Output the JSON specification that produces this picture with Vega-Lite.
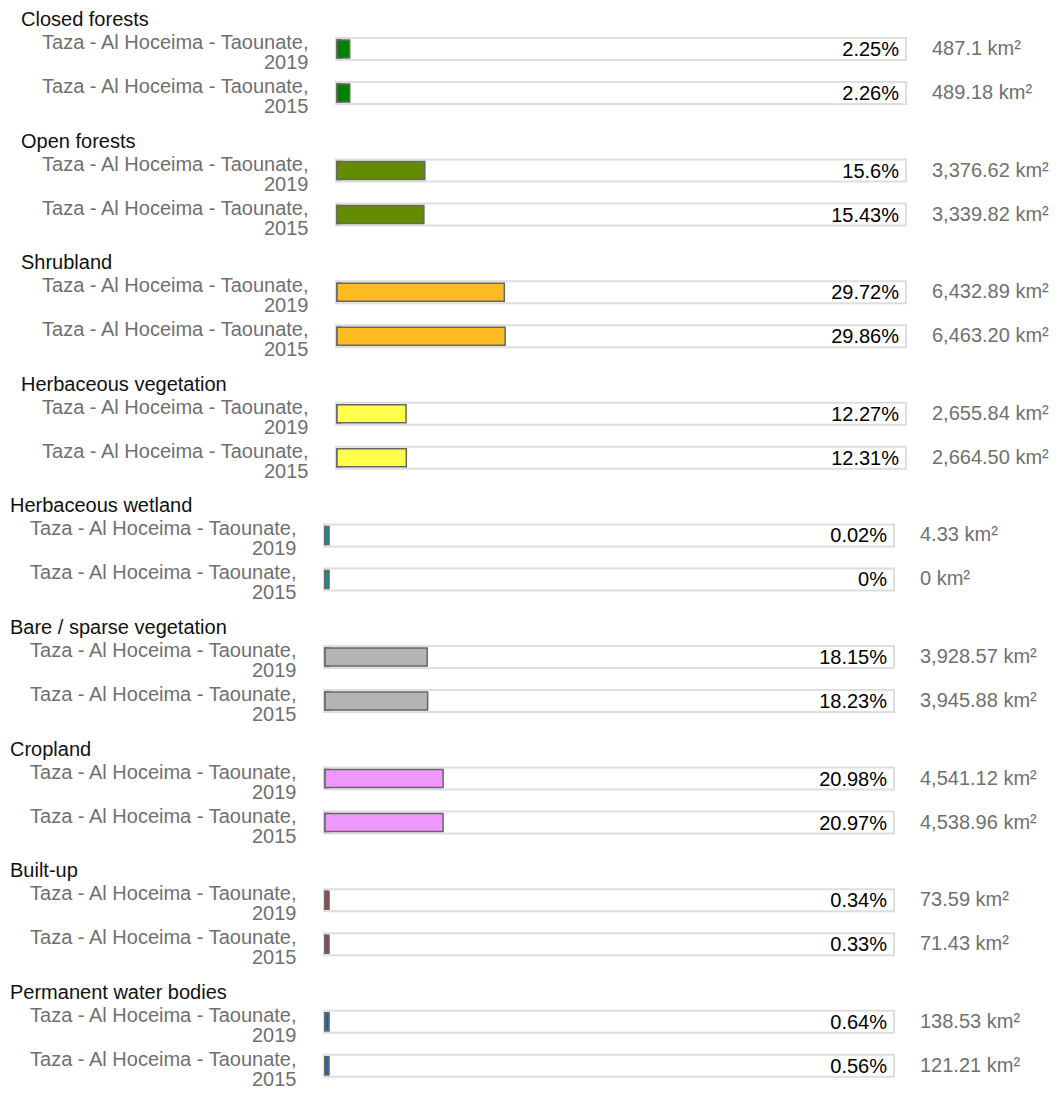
{
  "$schema": "https://vega.github.io/schema/vega-lite/v6.json",
  "background": "white",
  "padding": {"left": 10, "top": 10, "right": 0, "bottom": 0},
  "data": {"values": [
    {"cover": "Closed forests", "row": "Taza - Al Hoceima - Taounate, 2019", "share": 2.25, "shareLabel": "2.25%", "area": 487.1, "areaLabel": "487.1 km²"},
    {"cover": "Closed forests", "row": "Taza - Al Hoceima - Taounate, 2015", "share": 2.26, "shareLabel": "2.26%", "area": 489.18, "areaLabel": "489.18 km²"},
    {"cover": "Open forests", "row": "Taza - Al Hoceima - Taounate, 2019", "share": 15.6, "shareLabel": "15.6%", "area": 3376.62, "areaLabel": "3,376.62 km²"},
    {"cover": "Open forests", "row": "Taza - Al Hoceima - Taounate, 2015", "share": 15.43, "shareLabel": "15.43%", "area": 3339.82, "areaLabel": "3,339.82 km²"},
    {"cover": "Shrubland", "row": "Taza - Al Hoceima - Taounate, 2019", "share": 29.72, "shareLabel": "29.72%", "area": 6432.89, "areaLabel": "6,432.89 km²"},
    {"cover": "Shrubland", "row": "Taza - Al Hoceima - Taounate, 2015", "share": 29.86, "shareLabel": "29.86%", "area": 6463.2, "areaLabel": "6,463.20 km²"},
    {"cover": "Herbaceous vegetation", "row": "Taza - Al Hoceima - Taounate, 2019", "share": 12.27, "shareLabel": "12.27%", "area": 2655.84, "areaLabel": "2,655.84 km²"},
    {"cover": "Herbaceous vegetation", "row": "Taza - Al Hoceima - Taounate, 2015", "share": 12.31, "shareLabel": "12.31%", "area": 2664.5, "areaLabel": "2,664.50 km²"},
    {"cover": "Herbaceous wetland", "row": "Taza - Al Hoceima - Taounate, 2019", "share": 0.02, "shareLabel": "0.02%", "area": 4.33, "areaLabel": "4.33 km²"},
    {"cover": "Herbaceous wetland", "row": "Taza - Al Hoceima - Taounate, 2015", "share": 0, "shareLabel": "0%", "area": 0, "areaLabel": "0 km²"},
    {"cover": "Bare / sparse vegetation", "row": "Taza - Al Hoceima - Taounate, 2019", "share": 18.15, "shareLabel": "18.15%", "area": 3928.57, "areaLabel": "3,928.57 km²"},
    {"cover": "Bare / sparse vegetation", "row": "Taza - Al Hoceima - Taounate, 2015", "share": 18.23, "shareLabel": "18.23%", "area": 3945.88, "areaLabel": "3,945.88 km²"},
    {"cover": "Cropland", "row": "Taza - Al Hoceima - Taounate, 2019", "share": 20.98, "shareLabel": "20.98%", "area": 4541.12, "areaLabel": "4,541.12 km²"},
    {"cover": "Cropland", "row": "Taza - Al Hoceima - Taounate, 2015", "share": 20.97, "shareLabel": "20.97%", "area": 4538.96, "areaLabel": "4,538.96 km²"},
    {"cover": "Built-up", "row": "Taza - Al Hoceima - Taounate, 2019", "share": 0.34, "shareLabel": "0.34%", "area": 73.59, "areaLabel": "73.59 km²"},
    {"cover": "Built-up", "row": "Taza - Al Hoceima - Taounate, 2015", "share": 0.33, "shareLabel": "0.33%", "area": 71.43, "areaLabel": "71.43 km²"},
    {"cover": "Permanent water bodies", "row": "Taza - Al Hoceima - Taounate, 2019", "share": 0.64, "shareLabel": "0.64%", "area": 138.53, "areaLabel": "138.53 km²"},
    {"cover": "Permanent water bodies", "row": "Taza - Al Hoceima - Taounate, 2015", "share": 0.56, "shareLabel": "0.56%", "area": 121.21, "areaLabel": "121.21 km²"}
  ]},
  "columns": 1,
  "spacing": 14.6,
  "concat": [
    {"title": {"text": "Closed forests", "dx": 11}, "transform": [{"filter": {"field": "cover", "equal": "Closed forests"}}], "width": 570, "height": 66,
     "encoding": {"y": {"field": "row", "type": "nominal", "sort": null, "scale": {"paddingInner": 0.5, "paddingOuter": 0}, "axis": {"labelPadding": 16}}},
     "layer": [
      {"mark": {"type": "bar", "fill": "white", "stroke": "#dedede", "strokeWidth": 2, "x2Offset": 7}, "encoding": {"x": {"datum": 0, "type": "quantitative", "scale": {"domain": [0, 100], "range": [12, 575], "nice": false}, "axis": null}, "x2": {"datum": 100}}},
      {"mark": {"type": "bar", "height": 18, "xOffset": 1, "x2Offset": 5, "stroke": "#666", "strokeWidth": 1.5}, "encoding": {"x": {"datum": 0, "type": "quantitative"}, "x2": {"datum": 0}, "fill": {"field": "cover", "type": "nominal", "scale": {"domain": ["Closed forests", "Open forests", "Shrubland", "Herbaceous vegetation", "Herbaceous wetland", "Bare / sparse vegetation", "Cropland", "Built-up", "Permanent water bodies"], "range": ["#008000", "#648c00", "#ffbb22", "#ffff4c", "#0096a0", "#b4b4b4", "#f096ff", "#fa0000", "#0064c8"]}, "legend": null}}},
      {"mark": {"type": "bar", "height": 18, "xOffset": 1, "stroke": "#666", "strokeWidth": 1.5}, "encoding": {"x": {"field": "share", "type": "quantitative"}, "fill": {"field": "cover", "type": "nominal", "legend": null}}},
      {"mark": {"type": "text", "align": "right", "baseline": "middle", "dx": 0, "dy": 1, "fontSize": 20, "color": "#000"}, "encoding": {"x": {"datum": 100, "type": "quantitative"}, "text": {"field": "shareLabel"}}},
      {"mark": {"type": "text", "align": "left", "baseline": "middle", "dx": 33, "fontSize": 20, "color": "#707070"}, "encoding": {"x": {"datum": 100, "type": "quantitative"}, "text": {"field": "areaLabel"}}}
     ]},
    {"title": {"text": "Open forests", "dx": 11}, "transform": [{"filter": {"field": "cover", "equal": "Open forests"}}], "width": 570, "height": 66,
     "encoding": {"y": {"field": "row", "type": "nominal", "sort": null, "scale": {"paddingInner": 0.5, "paddingOuter": 0}, "axis": {"labelPadding": 16}}},
     "layer": [
      {"mark": {"type": "bar", "fill": "white", "stroke": "#dedede", "strokeWidth": 2, "x2Offset": 7}, "encoding": {"x": {"datum": 0, "type": "quantitative", "scale": {"domain": [0, 100], "range": [12, 575], "nice": false}, "axis": null}, "x2": {"datum": 100}}},
      {"mark": {"type": "bar", "height": 18, "xOffset": 1, "x2Offset": 5, "stroke": "#666", "strokeWidth": 1.5}, "encoding": {"x": {"datum": 0, "type": "quantitative"}, "x2": {"datum": 0}, "fill": {"field": "cover", "type": "nominal", "scale": {"domain": ["Closed forests", "Open forests", "Shrubland", "Herbaceous vegetation", "Herbaceous wetland", "Bare / sparse vegetation", "Cropland", "Built-up", "Permanent water bodies"], "range": ["#008000", "#648c00", "#ffbb22", "#ffff4c", "#0096a0", "#b4b4b4", "#f096ff", "#fa0000", "#0064c8"]}, "legend": null}}},
      {"mark": {"type": "bar", "height": 18, "xOffset": 1, "stroke": "#666", "strokeWidth": 1.5}, "encoding": {"x": {"field": "share", "type": "quantitative"}, "fill": {"field": "cover", "type": "nominal", "legend": null}}},
      {"mark": {"type": "text", "align": "right", "baseline": "middle", "dx": 0, "dy": 1, "fontSize": 20, "color": "#000"}, "encoding": {"x": {"datum": 100, "type": "quantitative"}, "text": {"field": "shareLabel"}}},
      {"mark": {"type": "text", "align": "left", "baseline": "middle", "dx": 33, "fontSize": 20, "color": "#707070"}, "encoding": {"x": {"datum": 100, "type": "quantitative"}, "text": {"field": "areaLabel"}}}
     ]},
    {"title": {"text": "Shrubland", "dx": 11}, "transform": [{"filter": {"field": "cover", "equal": "Shrubland"}}], "width": 570, "height": 66,
     "encoding": {"y": {"field": "row", "type": "nominal", "sort": null, "scale": {"paddingInner": 0.5, "paddingOuter": 0}, "axis": {"labelPadding": 16}}},
     "layer": [
      {"mark": {"type": "bar", "fill": "white", "stroke": "#dedede", "strokeWidth": 2, "x2Offset": 7}, "encoding": {"x": {"datum": 0, "type": "quantitative", "scale": {"domain": [0, 100], "range": [12, 575], "nice": false}, "axis": null}, "x2": {"datum": 100}}},
      {"mark": {"type": "bar", "height": 18, "xOffset": 1, "x2Offset": 5, "stroke": "#666", "strokeWidth": 1.5}, "encoding": {"x": {"datum": 0, "type": "quantitative"}, "x2": {"datum": 0}, "fill": {"field": "cover", "type": "nominal", "scale": {"domain": ["Closed forests", "Open forests", "Shrubland", "Herbaceous vegetation", "Herbaceous wetland", "Bare / sparse vegetation", "Cropland", "Built-up", "Permanent water bodies"], "range": ["#008000", "#648c00", "#ffbb22", "#ffff4c", "#0096a0", "#b4b4b4", "#f096ff", "#fa0000", "#0064c8"]}, "legend": null}}},
      {"mark": {"type": "bar", "height": 18, "xOffset": 1, "stroke": "#666", "strokeWidth": 1.5}, "encoding": {"x": {"field": "share", "type": "quantitative"}, "fill": {"field": "cover", "type": "nominal", "legend": null}}},
      {"mark": {"type": "text", "align": "right", "baseline": "middle", "dx": 0, "dy": 1, "fontSize": 20, "color": "#000"}, "encoding": {"x": {"datum": 100, "type": "quantitative"}, "text": {"field": "shareLabel"}}},
      {"mark": {"type": "text", "align": "left", "baseline": "middle", "dx": 33, "fontSize": 20, "color": "#707070"}, "encoding": {"x": {"datum": 100, "type": "quantitative"}, "text": {"field": "areaLabel"}}}
     ]},
    {"title": {"text": "Herbaceous vegetation", "dx": 11}, "transform": [{"filter": {"field": "cover", "equal": "Herbaceous vegetation"}}], "width": 570, "height": 66,
     "encoding": {"y": {"field": "row", "type": "nominal", "sort": null, "scale": {"paddingInner": 0.5, "paddingOuter": 0}, "axis": {"labelPadding": 16}}},
     "layer": [
      {"mark": {"type": "bar", "fill": "white", "stroke": "#dedede", "strokeWidth": 2, "x2Offset": 7}, "encoding": {"x": {"datum": 0, "type": "quantitative", "scale": {"domain": [0, 100], "range": [12, 575], "nice": false}, "axis": null}, "x2": {"datum": 100}}},
      {"mark": {"type": "bar", "height": 18, "xOffset": 1, "x2Offset": 5, "stroke": "#666", "strokeWidth": 1.5}, "encoding": {"x": {"datum": 0, "type": "quantitative"}, "x2": {"datum": 0}, "fill": {"field": "cover", "type": "nominal", "scale": {"domain": ["Closed forests", "Open forests", "Shrubland", "Herbaceous vegetation", "Herbaceous wetland", "Bare / sparse vegetation", "Cropland", "Built-up", "Permanent water bodies"], "range": ["#008000", "#648c00", "#ffbb22", "#ffff4c", "#0096a0", "#b4b4b4", "#f096ff", "#fa0000", "#0064c8"]}, "legend": null}}},
      {"mark": {"type": "bar", "height": 18, "xOffset": 1, "stroke": "#666", "strokeWidth": 1.5}, "encoding": {"x": {"field": "share", "type": "quantitative"}, "fill": {"field": "cover", "type": "nominal", "legend": null}}},
      {"mark": {"type": "text", "align": "right", "baseline": "middle", "dx": 0, "dy": 1, "fontSize": 20, "color": "#000"}, "encoding": {"x": {"datum": 100, "type": "quantitative"}, "text": {"field": "shareLabel"}}},
      {"mark": {"type": "text", "align": "left", "baseline": "middle", "dx": 33, "fontSize": 20, "color": "#707070"}, "encoding": {"x": {"datum": 100, "type": "quantitative"}, "text": {"field": "areaLabel"}}}
     ]},
    {"title": {"text": "Herbaceous wetland", "dx": 0}, "transform": [{"filter": {"field": "cover", "equal": "Herbaceous wetland"}}], "width": 570, "height": 66,
     "encoding": {"y": {"field": "row", "type": "nominal", "sort": null, "scale": {"paddingInner": 0.5, "paddingOuter": 0}, "axis": {"labelPadding": 28}}},
     "layer": [
      {"mark": {"type": "bar", "fill": "white", "stroke": "#dedede", "strokeWidth": 2, "x2Offset": 7}, "encoding": {"x": {"datum": 0, "type": "quantitative", "scale": {"domain": [0, 100], "range": [0, 563], "nice": false}, "axis": null}, "x2": {"datum": 100}}},
      {"mark": {"type": "bar", "height": 18, "xOffset": 1, "x2Offset": 5, "stroke": "#666", "strokeWidth": 1.5}, "encoding": {"x": {"datum": 0, "type": "quantitative"}, "x2": {"datum": 0}, "fill": {"field": "cover", "type": "nominal", "scale": {"domain": ["Closed forests", "Open forests", "Shrubland", "Herbaceous vegetation", "Herbaceous wetland", "Bare / sparse vegetation", "Cropland", "Built-up", "Permanent water bodies"], "range": ["#008000", "#648c00", "#ffbb22", "#ffff4c", "#0096a0", "#b4b4b4", "#f096ff", "#fa0000", "#0064c8"]}, "legend": null}}},
      {"mark": {"type": "bar", "height": 18, "xOffset": 1, "stroke": "#666", "strokeWidth": 1.5}, "encoding": {"x": {"field": "share", "type": "quantitative"}, "fill": {"field": "cover", "type": "nominal", "legend": null}}},
      {"mark": {"type": "text", "align": "right", "baseline": "middle", "dx": 0, "dy": 1, "fontSize": 20, "color": "#000"}, "encoding": {"x": {"datum": 100, "type": "quantitative"}, "text": {"field": "shareLabel"}}},
      {"mark": {"type": "text", "align": "left", "baseline": "middle", "dx": 33, "fontSize": 20, "color": "#707070"}, "encoding": {"x": {"datum": 100, "type": "quantitative"}, "text": {"field": "areaLabel"}}}
     ]},
    {"title": {"text": "Bare / sparse vegetation", "dx": 0}, "transform": [{"filter": {"field": "cover", "equal": "Bare / sparse vegetation"}}], "width": 570, "height": 66,
     "encoding": {"y": {"field": "row", "type": "nominal", "sort": null, "scale": {"paddingInner": 0.5, "paddingOuter": 0}, "axis": {"labelPadding": 28}}},
     "layer": [
      {"mark": {"type": "bar", "fill": "white", "stroke": "#dedede", "strokeWidth": 2, "x2Offset": 7}, "encoding": {"x": {"datum": 0, "type": "quantitative", "scale": {"domain": [0, 100], "range": [0, 563], "nice": false}, "axis": null}, "x2": {"datum": 100}}},
      {"mark": {"type": "bar", "height": 18, "xOffset": 1, "x2Offset": 5, "stroke": "#666", "strokeWidth": 1.5}, "encoding": {"x": {"datum": 0, "type": "quantitative"}, "x2": {"datum": 0}, "fill": {"field": "cover", "type": "nominal", "scale": {"domain": ["Closed forests", "Open forests", "Shrubland", "Herbaceous vegetation", "Herbaceous wetland", "Bare / sparse vegetation", "Cropland", "Built-up", "Permanent water bodies"], "range": ["#008000", "#648c00", "#ffbb22", "#ffff4c", "#0096a0", "#b4b4b4", "#f096ff", "#fa0000", "#0064c8"]}, "legend": null}}},
      {"mark": {"type": "bar", "height": 18, "xOffset": 1, "stroke": "#666", "strokeWidth": 1.5}, "encoding": {"x": {"field": "share", "type": "quantitative"}, "fill": {"field": "cover", "type": "nominal", "legend": null}}},
      {"mark": {"type": "text", "align": "right", "baseline": "middle", "dx": 0, "dy": 1, "fontSize": 20, "color": "#000"}, "encoding": {"x": {"datum": 100, "type": "quantitative"}, "text": {"field": "shareLabel"}}},
      {"mark": {"type": "text", "align": "left", "baseline": "middle", "dx": 33, "fontSize": 20, "color": "#707070"}, "encoding": {"x": {"datum": 100, "type": "quantitative"}, "text": {"field": "areaLabel"}}}
     ]},
    {"title": {"text": "Cropland", "dx": 0}, "transform": [{"filter": {"field": "cover", "equal": "Cropland"}}], "width": 570, "height": 66,
     "encoding": {"y": {"field": "row", "type": "nominal", "sort": null, "scale": {"paddingInner": 0.5, "paddingOuter": 0}, "axis": {"labelPadding": 28}}},
     "layer": [
      {"mark": {"type": "bar", "fill": "white", "stroke": "#dedede", "strokeWidth": 2, "x2Offset": 7}, "encoding": {"x": {"datum": 0, "type": "quantitative", "scale": {"domain": [0, 100], "range": [0, 563], "nice": false}, "axis": null}, "x2": {"datum": 100}}},
      {"mark": {"type": "bar", "height": 18, "xOffset": 1, "x2Offset": 5, "stroke": "#666", "strokeWidth": 1.5}, "encoding": {"x": {"datum": 0, "type": "quantitative"}, "x2": {"datum": 0}, "fill": {"field": "cover", "type": "nominal", "scale": {"domain": ["Closed forests", "Open forests", "Shrubland", "Herbaceous vegetation", "Herbaceous wetland", "Bare / sparse vegetation", "Cropland", "Built-up", "Permanent water bodies"], "range": ["#008000", "#648c00", "#ffbb22", "#ffff4c", "#0096a0", "#b4b4b4", "#f096ff", "#fa0000", "#0064c8"]}, "legend": null}}},
      {"mark": {"type": "bar", "height": 18, "xOffset": 1, "stroke": "#666", "strokeWidth": 1.5}, "encoding": {"x": {"field": "share", "type": "quantitative"}, "fill": {"field": "cover", "type": "nominal", "legend": null}}},
      {"mark": {"type": "text", "align": "right", "baseline": "middle", "dx": 0, "dy": 1, "fontSize": 20, "color": "#000"}, "encoding": {"x": {"datum": 100, "type": "quantitative"}, "text": {"field": "shareLabel"}}},
      {"mark": {"type": "text", "align": "left", "baseline": "middle", "dx": 33, "fontSize": 20, "color": "#707070"}, "encoding": {"x": {"datum": 100, "type": "quantitative"}, "text": {"field": "areaLabel"}}}
     ]},
    {"title": {"text": "Built-up", "dx": 0}, "transform": [{"filter": {"field": "cover", "equal": "Built-up"}}], "width": 570, "height": 66,
     "encoding": {"y": {"field": "row", "type": "nominal", "sort": null, "scale": {"paddingInner": 0.5, "paddingOuter": 0}, "axis": {"labelPadding": 28}}},
     "layer": [
      {"mark": {"type": "bar", "fill": "white", "stroke": "#dedede", "strokeWidth": 2, "x2Offset": 7}, "encoding": {"x": {"datum": 0, "type": "quantitative", "scale": {"domain": [0, 100], "range": [0, 563], "nice": false}, "axis": null}, "x2": {"datum": 100}}},
      {"mark": {"type": "bar", "height": 18, "xOffset": 1, "x2Offset": 5, "stroke": "#666", "strokeWidth": 1.5}, "encoding": {"x": {"datum": 0, "type": "quantitative"}, "x2": {"datum": 0}, "fill": {"field": "cover", "type": "nominal", "scale": {"domain": ["Closed forests", "Open forests", "Shrubland", "Herbaceous vegetation", "Herbaceous wetland", "Bare / sparse vegetation", "Cropland", "Built-up", "Permanent water bodies"], "range": ["#008000", "#648c00", "#ffbb22", "#ffff4c", "#0096a0", "#b4b4b4", "#f096ff", "#fa0000", "#0064c8"]}, "legend": null}}},
      {"mark": {"type": "bar", "height": 18, "xOffset": 1, "stroke": "#666", "strokeWidth": 1.5}, "encoding": {"x": {"field": "share", "type": "quantitative"}, "fill": {"field": "cover", "type": "nominal", "legend": null}}},
      {"mark": {"type": "text", "align": "right", "baseline": "middle", "dx": 0, "dy": 1, "fontSize": 20, "color": "#000"}, "encoding": {"x": {"datum": 100, "type": "quantitative"}, "text": {"field": "shareLabel"}}},
      {"mark": {"type": "text", "align": "left", "baseline": "middle", "dx": 33, "fontSize": 20, "color": "#707070"}, "encoding": {"x": {"datum": 100, "type": "quantitative"}, "text": {"field": "areaLabel"}}}
     ]},
    {"title": {"text": "Permanent water bodies", "dx": 0}, "transform": [{"filter": {"field": "cover", "equal": "Permanent water bodies"}}], "width": 570, "height": 66,
     "encoding": {"y": {"field": "row", "type": "nominal", "sort": null, "scale": {"paddingInner": 0.5, "paddingOuter": 0}, "axis": {"labelPadding": 28}}},
     "layer": [
      {"mark": {"type": "bar", "fill": "white", "stroke": "#dedede", "strokeWidth": 2, "x2Offset": 7}, "encoding": {"x": {"datum": 0, "type": "quantitative", "scale": {"domain": [0, 100], "range": [0, 563], "nice": false}, "axis": null}, "x2": {"datum": 100}}},
      {"mark": {"type": "bar", "height": 18, "xOffset": 1, "x2Offset": 5, "stroke": "#666", "strokeWidth": 1.5}, "encoding": {"x": {"datum": 0, "type": "quantitative"}, "x2": {"datum": 0}, "fill": {"field": "cover", "type": "nominal", "scale": {"domain": ["Closed forests", "Open forests", "Shrubland", "Herbaceous vegetation", "Herbaceous wetland", "Bare / sparse vegetation", "Cropland", "Built-up", "Permanent water bodies"], "range": ["#008000", "#648c00", "#ffbb22", "#ffff4c", "#0096a0", "#b4b4b4", "#f096ff", "#fa0000", "#0064c8"]}, "legend": null}}},
      {"mark": {"type": "bar", "height": 18, "xOffset": 1, "stroke": "#666", "strokeWidth": 1.5}, "encoding": {"x": {"field": "share", "type": "quantitative"}, "fill": {"field": "cover", "type": "nominal", "legend": null}}},
      {"mark": {"type": "text", "align": "right", "baseline": "middle", "dx": 0, "dy": 1, "fontSize": 20, "color": "#000"}, "encoding": {"x": {"datum": 100, "type": "quantitative"}, "text": {"field": "shareLabel"}}},
      {"mark": {"type": "text", "align": "left", "baseline": "middle", "dx": 33, "fontSize": 20, "color": "#707070"}, "encoding": {"x": {"datum": 100, "type": "quantitative"}, "text": {"field": "areaLabel"}}}
     ]}
  ],
  "config": {
    "font": "Liberation Sans",
    "view": {"stroke": null},
    "title": {"anchor": "start", "frame": "bounds", "fontSize": 20, "fontWeight": "normal", "color": "#111111", "font": "Liberation Sans", "offset": 2.5},
    "axisY": {"title": null, "domain": false, "ticks": false, "grid": false, "minExtent": 314, "labelFontSize": 20, "labelFont": "Liberation Sans", "labelColor": "#707070", "labelLimit": 400, "labelAlign": "right", "labelBaseline": "middle", "labelLineHeight": 20, "labelOffset": -6,
      "labelExpr": "[substring(datum.value, 0, lastindexof(datum.value, ',') + 1), substring(datum.value, lastindexof(datum.value, ',') + 2)]"}
  }
}
